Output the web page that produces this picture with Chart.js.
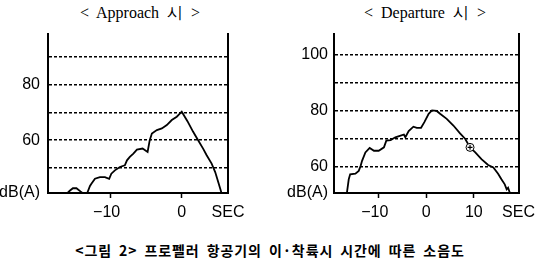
<!DOCTYPE html>
<html>
<head>
<meta charset="utf-8">
<script src="https://cdn.jsdelivr.net/npm/chart.js@4.4.0/dist/chart.umd.min.js"></script>
<style>
  body { margin:0; width:540px; height:261px; background:#fff; position:relative; overflow:hidden; }
  .box { position:absolute; top:0; width:270px; height:225px; }
  .title { position:absolute; top:3px; width:270px; text-align:center; white-space:pre;
           font:16px "Liberation Serif","DejaVu Serif",serif; color:#000; }
  .caption { position:absolute; top:240px; left:0; width:540px; text-align:center;
             font:bold 14px "Noto Sans CJK KR",sans-serif; letter-spacing:0.9px; word-spacing:3px; color:#000; }
</style>
</head>
<body>
<div class="title" style="left:5px">&lt;  Approach  시  &gt;</div>
<div class="title" style="left:290px">&lt;  Departure  시  &gt;</div>
<div class="box" style="left:0"><canvas id="approach" width="270" height="225"></canvas></div>
<div class="box" style="left:270px"><canvas id="departure" width="270" height="225"></canvas></div>
<div class="caption">&lt;그림 2&gt; 프로펠러 항공기의 이·착륙시 시간에 따른 소음도</div>

<script>
// approach (sec, dB(A)); null splits the short blip from the main trace
const approachTime  = [-16.0,-15.7,-15.3,-14.8,-14.2,-14.0,-13.6,-13.3,-12.9,-12.7,-12.2,-11.5,-10.8,-10.2,-9.9,-9.4,-8.7,-8.0,-7.7,-7.3,-6.8,-6.3,-5.5,-4.8,-4.5,-4.2,-3.5,-2.8,-2.1,-1.4,-0.7,0.0,0.8,1.6,2.3,3.0,3.5,4.2,4.7,5.2,5.6];
const approachLevel = [41.3,42.0,42.8,42.8,41.6,41.2,null,41.0,43.6,44.4,46.2,46.8,46.8,46.2,48.0,49.2,50.4,51.0,52.8,54.0,55.2,56.6,57.0,55.8,60.0,62.4,63.6,64.2,65.4,67.2,68.4,70.2,66.8,63.0,60.0,57.0,54.6,51.6,48.6,44.4,41.0];

// departure
const departureTime  = [-16.7,-16.3,-16.0,-14.9,-14.2,-13.8,-13.5,-12.8,-11.9,-11.0,-10.0,-8.9,-8.4,-7.5,-6.5,-5.4,-4.7,-4.4,-3.7,-2.7,-2.0,-1.1,-0.4,0.5,1.2,2.2,2.9,4.3,5.7,7.1,8.2,9.2,10.3,11.6,13.0,14.1,15.1,15.8,16.5,16.9,17.2,17.6];
const departureLevel = [50.6,55.6,57.4,57.6,58.6,60.4,62.2,65.2,66.8,65.8,65.8,67.0,69.4,69.6,70.6,71.2,71.6,70.6,72.8,74.4,74.0,74.0,76.0,79.0,80.2,80.0,79.0,77.2,74.8,72.0,70.0,67.0,65.2,62.8,60.7,59.8,57.6,55.6,53.8,52.0,52.6,50.6];
const markerTime  = [9.2];
const markerLevel = [67.0];

// axes
const approachXTicks  = [-10, 0];
const departureXTicks = [-10, 0, 10];
const approachGrid    = [50, 60, 70, 80, 90];
const departureGrid   = [60, 70, 80, 90, 100];
const approachYLabels  = [60, 80];
const departureYLabels = [60, 80, 100];
const unitX = 'SEC';
const unitY = 'dB(A)';

const toPts = (t, v) => t.map((x, i) => ({x: x, y: v[i]}));
const FONT = {family: '"Liberation Sans", Arial, sans-serif', size: 16};

function makeChart(id, time, level, o) {
  const datasets = [{
    data: toPts(time, level),
    borderColor: '#000', borderWidth: 1.8, pointRadius: 0, tension: 0,
    spanGaps: false, showLine: true, order: 1
  }];
  if (o.marker) {
    // circled plus sitting on the trace
    datasets.push({data: toPts(o.marker[0], o.marker[1]), pointStyle: 'circle', pointRadius: 4,
      pointBackgroundColor: '#fff', pointBorderColor: '#000', pointBorderWidth: 1, showLine: false, order: 0});
    datasets.push({data: toPts(o.marker[0], o.marker[1]), pointStyle: 'cross', pointRadius: 2.5,
      pointBorderColor: '#000', pointBorderWidth: 1.2, showLine: false, order: -1});
  }
  return new Chart(document.getElementById(id), {
    type: 'scatter',
    data: {datasets: datasets},
    options: {
      responsive: false, animation: false,
      layout: {padding: {top: 34, right: o.padRight, left: 0, bottom: 0}},
      plugins: {legend: {display: false}, tooltip: {enabled: false}},
      scales: {
        x: {
          type: 'linear', min: o.xMin, max: o.xMax,
          afterBuildTicks: s => { s.ticks = o.xTicks.concat([o.xMax]).map(v => ({value: v})); },
          afterFit: s => { s.height = 32; },
          ticks: {
            color: '#000', font: FONT, padding: 5, maxRotation: 0, autoSkip: false,
            callback: v => v === o.xMax ? unitX : (v < 0 ? '\u2212' + Math.abs(v) + '\u2002' : String(v))
          },
          grid: {drawOnChartArea: false, drawTicks: true, tickLength: 5, tickWidth: 1.5,
                 tickColor: c => (c.tick && c.tick.value === o.xMax) ? 'rgba(0,0,0,0)' : '#000'},
          border: {display: true, color: '#000', width: 2}
        },
        y: {
          type: 'linear', min: o.yMin, max: o.yMax,
          afterBuildTicks: s => { s.ticks = [o.yMin].concat(o.yGrid).map(v => ({value: v})); },
          afterFit: s => { s.width = o.yWidth; },
          ticks: {
            color: '#000', font: FONT, padding: o.yPad, autoSkip: false,
            callback: v => v === o.yMin ? unitY : (o.yLabels.includes(v) ? String(v) : '')
          },
          grid: {drawTicks: false, lineWidth: 1.4,
                 color: c => (c.tick && c.tick.value === o.yMin) ? 'rgba(0,0,0,0)' : '#000'},
          border: {display: true, color: '#000', width: 2, dash: [3, 2]}
        },
        y2: {
          type: 'linear', position: 'right', min: o.yMin, max: o.yMax,
          afterFit: s => { s.width = 0; },
          ticks: {display: false},
          grid: {display: false},
          border: {display: true, color: '#000', width: 2}
        }
      }
    }
  });
}

makeChart('approach', approachTime, approachLevel, {
  xMin: -18.8, xMax: 6.5, yMin: 41.1, yMax: 98, xTicks: approachXTicks,
  yGrid: approachGrid, yLabels: approachYLabels, yWidth: 48, yPad: 8, padRight: 42
});
makeChart('departure', departureTime, departureLevel, {
  xMin: -19.4, xMax: 19.4, yMin: 50.7, yMax: 107.5, xTicks: departureXTicks,
  yGrid: departureGrid, yLabels: departureYLabels, yWidth: 64, yPad: 6, padRight: 21,
  marker: [markerTime, markerLevel]
});
</script>
</body>
</html>
